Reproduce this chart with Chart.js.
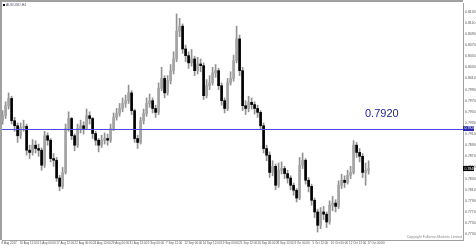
<!DOCTYPE html>
<html>
<head>
<meta charset="utf-8">
<style>
html,body{margin:0;padding:0;background:#fff;}
canvas{display:block;}
</style>
<script src="https://cdn.jsdelivr.net/npm/chart.js@4.4.1/dist/chart.umd.min.js"></script>
</head>
<body>
<canvas id="c" width="476" height="248"></canvas>
<script>
const symbolTitle = "AUDUSD,H4";
const copyrightText = "Copyright Fullerton Markets Limited";
const levelValue = 0.7920;

const closes = [
0.7943,0.7961,0.7974,0.7934,0.7925,0.7907,0.7922,0.7924,0.7881,0.7877,
0.7890,0.7884,0.7881,0.7854,0.7907,0.7899,0.7866,0.7863,0.7831,0.7816,
0.7841,0.7920,0.7938,0.7907,0.7890,0.7920,0.7925,0.7920,0.7943,0.7938,
0.7911,0.7899,0.7890,0.7899,0.7902,0.7899,0.7920,0.7940,0.7947,0.7956,
0.7965,0.7970,0.7984,0.7952,0.7902,0.7895,0.7934,0.7947,0.7965,0.7970,
0.7956,0.7949,0.7992,0.8010,0.7984,0.8006,0.8024,0.8045,0.8095,0.8104,
0.8063,0.8051,0.8038,0.8045,0.8024,0.8036,0.8033,0.7979,0.7997,0.8002,
0.8020,0.8024,0.7997,0.7970,0.7956,0.8002,0.8010,0.8042,0.8081,0.8024,
0.7961,0.7956,0.7967,0.7963,0.7956,0.7949,0.7925,0.7884,0.7872,0.7841,
0.7852,0.7818,0.7845,0.7848,0.7839,0.7831,0.7818,0.7809,0.7795,0.7854,
0.7863,0.7827,0.7816,0.7791,0.7770,0.7746,0.7770,0.7766,0.7752,0.7782,
0.7786,0.7780,0.7818,0.7827,0.7823,0.7836,0.7841,0.7890,0.7877,0.7870,
0.7841,0.7845,0.7848
];
const highs = [
0.7952,0.7968,0.7984,0.7978,0.7940,0.7930,0.7930,0.7935,0.7928,0.7890,
0.7900,0.7898,0.7892,0.7885,0.7915,0.7912,0.7902,0.7875,0.7868,0.7836,
0.7850,0.7928,0.7950,0.7940,0.7910,0.7928,0.7935,0.7932,0.7955,0.7950,
0.7940,0.7915,0.7902,0.7908,0.7912,0.7910,0.7928,0.7948,0.7956,0.7965,
0.7975,0.7980,0.7998,0.7988,0.7955,0.7908,0.7940,0.7955,0.7975,0.7982,
0.7975,0.7962,0.8002,0.8030,0.8015,0.8015,0.8035,0.8058,0.8126,0.8118,
0.8108,0.8070,0.8058,0.8062,0.8050,0.8048,0.8045,0.8038,0.8008,0.8015,
0.8030,0.8035,0.8028,0.8002,0.7975,0.8010,0.8022,0.8052,0.8104,0.8088,
0.8030,0.7970,0.7978,0.7975,0.7968,0.7962,0.7952,0.7930,0.7890,0.7878,
0.7862,0.7856,0.7858,0.7860,0.7852,0.7845,0.7835,0.7822,0.7812,0.7868,
0.7876,0.7866,0.7832,0.7820,0.7795,0.7775,0.7778,0.7780,0.7770,0.7790,
0.7798,0.7792,0.7826,0.7838,0.7835,0.7845,0.7852,0.7898,0.7895,0.7884,
0.7875,0.7858,0.7862
];
const lows = [
0.7928,0.7938,0.7955,0.7928,0.7915,0.7895,0.7902,0.7915,0.7872,0.7866,
0.7872,0.7876,0.7870,0.7845,0.7850,0.7890,0.7860,0.7852,0.7825,0.7808,
0.7812,0.7838,0.7915,0.7900,0.7880,0.7886,0.7912,0.7910,0.7918,0.7928,
0.7902,0.7890,0.7878,0.7886,0.7892,0.7890,0.7895,0.7916,0.7935,0.7942,
0.7950,0.7958,0.7965,0.7945,0.7895,0.7884,0.7892,0.7928,0.7942,0.7958,
0.7948,0.7940,0.7945,0.7988,0.7975,0.7980,0.8000,0.8018,0.8040,0.8085,
0.8055,0.8040,0.8028,0.8032,0.8015,0.8018,0.8022,0.7972,0.7975,0.7990,
0.7998,0.8012,0.7990,0.7962,0.7948,0.7952,0.7998,0.8005,0.8038,0.8015,
0.7952,0.7945,0.7950,0.7955,0.7946,0.7940,0.7918,0.7876,0.7862,0.7832,
0.7835,0.7810,0.7814,0.7838,0.7830,0.7822,0.7810,0.7800,0.7788,0.7792,
0.7848,0.7820,0.7806,0.7782,0.7760,0.7734,0.7740,0.7756,0.7742,0.7748,
0.7772,0.7770,0.7776,0.7812,0.7814,0.7820,0.7830,0.7838,0.7868,0.7860,
0.7832,0.7818,0.7838
];
const firstOpen = 0.7935;

const yTicks = [0.8130,0.8110,0.8090,0.8070,0.8050,0.8030,0.8010,0.7990,0.7970,0.7950,
0.7930,0.7910,0.7890,0.7870,0.7850,0.7830,0.7810,0.7790,0.7770,0.7750,0.7730];
const timeLabels = ["8 Aug 2017","10 Aug 12:00","15 Aug 00:00","17 Aug 12:00","22 Aug 00:00",
"24 Aug 12:00","29 Aug 00:00","31 Aug 12:00","5 Sep 00:00","7 Sep 12:00","12 Sep 00:00",
"14 Sep 12:00","19 Sep 00:00","21 Sep 12:00","26 Sep 00:00","28 Sep 12:00","3 Oct 00:00",
"5 Oct 12:00","10 Oct 00:00","12 Oct 12:00","17 Oct 00:00"];

// candles per time-label interval (layout constant)
const LABEL_STEP = 6.1;

const opens = closes.map((c,i)=> i===0 ? firstOpen : closes[i-1]);
const bodyData = closes.map((c,i)=>({x:i, y:[opens[i], c]}));
const wickData = closes.map((c,i)=>({x:i, y:[lows[i], highs[i]]}));
const bodyColors = closes.map((c,i)=> c < opens[i] ? '#000000' : '#a4a4a4');

const FONT = "'Liberation Sans', Arial, sans-serif";

const decor = {
  id:'decor',
  beforeDraw(chart){
    const ctx = chart.ctx;
    const ca = chart.chartArea;
    ctx.save();
    ctx.fillStyle = '#ffffff';
    ctx.fillRect(0,0,chart.width,chart.height);
    ctx.fillStyle = '#a0a0a0';
    ctx.fillRect(0,0,ca.right,2);
    ctx.fillRect(0,0,2,ca.bottom);
    ctx.restore();
  },
  afterDatasetsDraw(chart){
    const ctx = chart.ctx;
    const ca = chart.chartArea;
    const y = chart.scales.y;
    ctx.save();
    // level line
    const ly = Math.round(y.getPixelForValue(levelValue));
    ctx.fillStyle = '#4c4ce6';
    ctx.fillRect(ca.left, ly, ca.right - ca.left, 1);
    // level text
    ctx.fillStyle = '#22229a';
    ctx.font = '11px ' + FONT;
    ctx.textAlign = 'left';
    ctx.textBaseline = 'alphabetic';
    ctx.fillText(levelValue.toFixed(4), 365, ly - 12);
    // title
    ctx.fillStyle = '#000';
    ctx.fillRect(3,4,2,2);
    ctx.fillStyle = '#505070';
    ctx.font = '3.5px ' + FONT;
    ctx.textBaseline = 'middle';
    ctx.fillText(symbolTitle, 6, 5);
    // copyright
    ctx.fillStyle = '#8a8a8a';
    ctx.font = '3.5px ' + FONT;
    ctx.textAlign = 'right';
    ctx.fillText(copyrightText, ca.right - 1, ca.bottom - 3);
    // axis boxes
    const boxes = [[levelValue,'#2b2bb0'],[closes[closes.length-1],'#000000']];
    boxes.forEach(([v,col])=>{
      const py = y.getPixelForValue(v);
      ctx.fillStyle = col;
      ctx.fillRect(ca.right, py-2.5, 11, 5);
      ctx.fillStyle = '#ffffff';
      ctx.textAlign = 'left';
      ctx.textBaseline = 'middle';
      ctx.font = '3.5px ' + FONT;
      ctx.fillText(v.toFixed(4), ca.right + 1.5, py);
    });
    ctx.restore();
  }
};

new Chart(document.getElementById('c'), {
  type:'bar',
  data:{
    datasets:[
      {data: bodyData, backgroundColor: bodyColors, barThickness: 2, minBarLength: 1, grouped:false, borderWidth:0},
      {data: wickData, backgroundColor: '#929292', barThickness: 1, grouped:false, borderWidth:0}
    ]
  },
  options:{
    responsive:false,
    animation:false,
    devicePixelRatio:1,
    layout:{padding:{left:2,top:2,right:0,bottom:0}},
    plugins:{legend:{display:false}, tooltip:{enabled:false}},
    scales:{
      x:{
        type:'linear',
        position:'bottom',
        offset:false,
        min:-0.2,
        max:153.47,
        grid:{display:false, drawTicks:false, tickLength:0},
        border:{display:true,color:'#a0a0a0',width:1},
        afterBuildTicks(scale){ scale.ticks = timeLabels.map((t,k)=>({value:k*LABEL_STEP - 0.4})); },
        afterFit(scale){ scale.height = 8; },
        ticks:{
          autoSkip:false, maxRotation:0, minRotation:0, align:'start', padding:1,
          color:'#555555', font:{size:3, family:FONT},
          callback:(v,i)=> timeLabels[i]
        }
      },
      y:{
        type:'linear',
        position:'right',
        min:0.77196,
        max:0.81454,
        grid:{display:true, drawOnChartArea:false, drawTicks:true, tickLength:1, color:'#a0a0a0'},
        border:{display:true,color:'#a0a0a0',width:1},
        afterBuildTicks(scale){ scale.ticks = yTicks.map(v=>({value:v})); },
        afterFit(scale){ scale.width = 13; },
        ticks:{
          padding:1, color:'#555555', font:{size:3.5, family:FONT},
          callback:(v)=> Number(v).toFixed(4)
        }
      }
    }
  },
  plugins:[decor]
});
</script>
</body>
</html>
